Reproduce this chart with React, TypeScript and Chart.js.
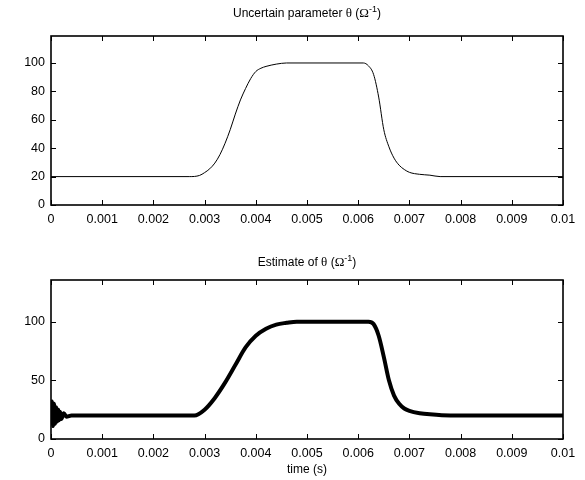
import React, { useEffect, useRef } from "react";
import { Chart, registerables } from "chart.js";

Chart.register(...registerables);

// ---- data ----
const thetaTime = [0, 0.0027, 0.0029, 0.003, 0.0031, 0.0032, 0.0033, 0.0034, 0.0035, 0.0036, 0.0037, 0.0038, 0.0039, 0.004, 0.0041, 0.0042, 0.0043, 0.0044, 0.0046, 0.0061, 0.0062, 0.0063, 0.0064, 0.0065, 0.0066, 0.0067, 0.0068, 0.0069, 0.007, 0.0072, 0.0074, 0.0076, 0.01];
const thetaValue = [20, 20, 20.8, 22.8, 25.5, 29.5, 35.5, 43.5, 53, 64, 74, 82, 89, 94, 96.3, 97.6, 98.5, 99.2, 100, 100, 98, 92, 76, 53, 41, 33, 28, 25, 23, 21.6, 21, 20, 20];

const estTime = [0, 0.00002, 0.00004, 0.00006, 0.00008, 0.0001, 0.00012, 0.00014, 0.00016, 0.00018, 0.0002, 0.00025, 0.0003, 0.0004, 0.0028, 0.003, 0.0032, 0.0034, 0.0036, 0.0038, 0.004, 0.0042, 0.0044, 0.0046, 0.0048, 0.0062, 0.0063, 0.0064, 0.0065, 0.0066, 0.0067, 0.0068, 0.0069, 0.007, 0.0072, 0.0074, 0.0078, 0.01];
const estValue = [12, 32, 11, 30, 13, 27, 15, 25, 16, 23, 17, 22, 19, 20, 20, 25, 35, 48, 63, 78, 88, 94, 97.5, 99, 100, 100, 98, 88, 70, 50, 37, 30, 26, 24, 22, 21, 20, 20];

const xTicks = [0, 0.001, 0.002, 0.003, 0.004, 0.005, 0.006, 0.007, 0.008, 0.009, 0.01];
const topYTicks = [0, 20, 40, 60, 80, 100];
const bottomYTicks = [0, 50, 100];
const topYMax = 119;
const bottomYMax = 135.5;

const SANS = '"Liberation Sans", Arial, Helvetica, sans-serif';
const SERIF = '"Liberation Serif", "DejaVu Serif", serif';

type Seg = { text: string; font: string; raise?: number };

const topTitle: Seg[] = [
  { text: "Uncertain parameter ", font: `12px ${SANS}` },
  { text: "θ", font: `13px ${SERIF}` },
  { text: " (", font: `12px ${SANS}` },
  { text: "Ω", font: `13px ${SERIF}` },
  { text: "-1", font: `9px ${SANS}`, raise: 5 },
  { text: ")", font: `12px ${SANS}` },
];
const bottomTitle: Seg[] = [
  { text: "Estimate of ", font: `12px ${SANS}` },
  { text: "θ", font: `13px ${SERIF}` },
  { text: " (", font: `12px ${SANS}` },
  { text: "Ω", font: `13px ${SERIF}` },
  { text: "-1", font: `9px ${SANS}`, raise: 5 },
  { text: ")", font: `12px ${SANS}` },
];

const boxPlugin = {
  id: "matlabBox",
  afterDatasetsDraw(chart: any, _args: any, opts: any) {
    const { ctx, chartArea: a, scales } = chart;
    const xs = scales.x;
    const ys = scales.y;
    const L = 5;
    ctx.save();
    ctx.strokeStyle = "#000";
    ctx.lineWidth = 1;
    ctx.beginPath();
    xTicks.forEach((v) => {
      const px = Math.round(xs.getPixelForValue(v)) + 0.5;
      ctx.moveTo(px, a.bottom);
      ctx.lineTo(px, a.bottom - L);
      ctx.moveTo(px, a.top);
      ctx.lineTo(px, a.top + L);
    });
    (opts.yTicks as number[]).forEach((v) => {
      const py = Math.round(ys.getPixelForValue(v)) + 0.5;
      ctx.moveTo(a.left, py);
      ctx.lineTo(a.left + L, py);
      ctx.moveTo(a.right, py);
      ctx.lineTo(a.right - L, py);
    });
    ctx.stroke();
    ctx.lineWidth = 1.6;
    ctx.strokeRect(a.left, a.top, a.right - a.left, a.bottom - a.top);
    // title
    const segs: Seg[] = opts.title;
    let total = 0;
    segs.forEach((s) => {
      ctx.font = s.font;
      total += ctx.measureText(s.text).width;
    });
    let x = (a.left + a.right) / 2 - total / 2;
    const baseY = a.top - opts.titleGap;
    ctx.fillStyle = "#000";
    ctx.textBaseline = "alphabetic";
    ctx.textAlign = "left";
    segs.forEach((s) => {
      ctx.font = s.font;
      ctx.fillText(s.text, x, baseY - (s.raise || 0));
      x += ctx.measureText(s.text).width;
    });
    ctx.restore();
  },
};

function makeConfig(
  times: number[],
  values: number[],
  yMax: number,
  yTicks: number[],
  lineWidth: number,
  title: Seg[],
  titleGap: number,
  topPad: number,
  xHeight: number,
  xTitle: string | null
): any {
  const points = times.map((t, i) => ({ x: t, y: values[i] }));
  return {
    type: "line",
    data: {
      datasets: [
        {
          data: points,
          borderColor: "#000",
          borderWidth: lineWidth,
          pointRadius: 0,
          fill: false,
          cubicInterpolationMode: "monotone",
        },
      ],
    },
    plugins: [boxPlugin],
    options: {
      responsive: false,
      animation: false,
      devicePixelRatio: 1,
      layout: { padding: { left: 0, right: 22, top: topPad, bottom: 0 } },
      plugins: {
        legend: { display: false },
        tooltip: { enabled: false },
        title: { display: false },
        matlabBox: { yTicks, title, titleGap },
      },
      scales: {
        x: {
          type: "linear",
          min: 0,
          max: 0.01,
          grid: { display: false, drawTicks: false },
          border: { display: false },
          afterBuildTicks: (scale: any) => {
            scale.ticks = xTicks.map((v) => ({ value: v }));
          },
          afterFit: (scale: any) => {
            scale.height = xHeight;
          },
          ticks: {
            color: "#000",
            padding: 7,
            maxRotation: 0,
            autoSkip: false,
            font: { family: SANS, size: 12.5 },
            callback: (v: number) => String(Number(v.toFixed(4))),
          },
          title: xTitle
            ? {
                display: true,
                text: xTitle,
                color: "#000",
                font: { family: SANS, size: 12 },
                padding: { top: 2, bottom: 3 },
              }
            : { display: false },
        },
        y: {
          type: "linear",
          min: 0,
          max: yMax,
          grid: { display: false, drawTicks: false },
          border: { display: false },
          afterBuildTicks: (scale: any) => {
            scale.ticks = yTicks.map((v) => ({ value: v }));
          },
          afterFit: (scale: any) => {
            scale.width = 51;
          },
          ticks: {
            color: "#000",
            padding: 6,
            font: { family: SANS, size: 12.5 },
          },
        },
      },
    },
  };
}

function Panel({ cfg }: { cfg: () => any }) {
  const ref = useRef<HTMLCanvasElement | null>(null);
  useEffect(() => {
    if (!ref.current) return;
    const chart = new Chart(ref.current, cfg());
    return () => chart.destroy();
  }, []);
  return <canvas ref={ref} width={585} height={240} style={{ display: "block", width: 585, height: 240 }} />;
}

export default function App() {
  useEffect(() => {
    document.body.style.margin = "0";
    document.body.style.background = "#fff";
  }, []);
  return (
    <div style={{ position: "absolute", left: 0, top: 0, width: 585, height: 480, background: "#fff" }}>
      <Panel cfg={() => makeConfig(thetaTime, thetaValue, topYMax, topYTicks, 1, topTitle, 19, 36, 35, null)} />
      <Panel cfg={() => makeConfig(estTime, estValue, bottomYMax, bottomYTicks, 4, bottomTitle, 14, 40, 41, "time (s)")} />
    </div>
  );
}
